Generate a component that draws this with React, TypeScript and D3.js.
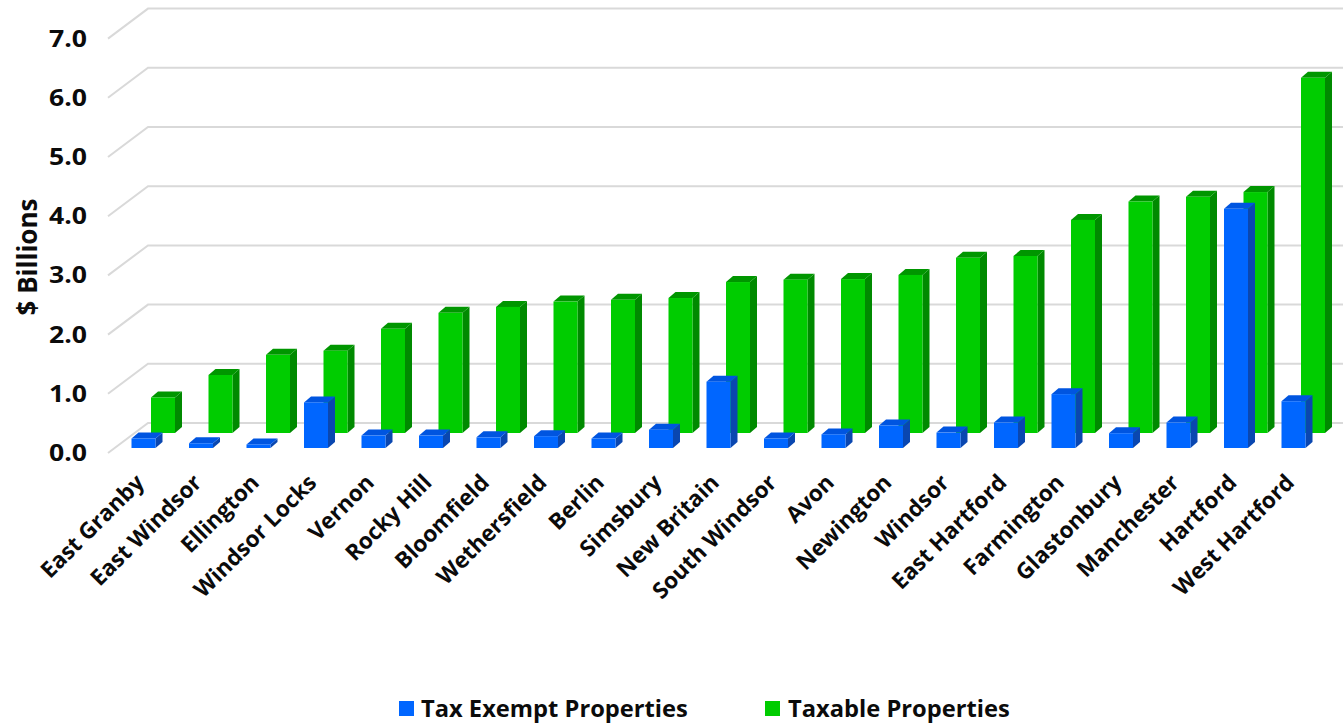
import React from "react";
import * as d3 from "d3";

const towns = ["East Granby","East Windsor","Ellington","Windsor Locks","Vernon","Rocky Hill","Bloomfield","Wethersfield","Berlin","Simsbury","New Britain","South Windsor","Avon","Newington","Windsor","East Hartford","Farmington","Glastonbury","Manchester","Hartford","West Hartford"];
const taxExempt = [0.16,0.08,0.06,0.77,0.21,0.21,0.18,0.2,0.16,0.31,1.12,0.16,0.23,0.38,0.26,0.43,0.91,0.25,0.43,4.04,0.79];
const taxable = [0.6,0.98,1.32,1.39,1.76,2.03,2.13,2.22,2.25,2.28,2.55,2.59,2.6,2.67,2.96,2.99,3.6,3.91,3.99,4.07,6.0];
const ticks = [0,1,2,3,4,5,6,7];

const W = 1343, H = 724;
const font = "'Open Sans', 'Noto Sans', sans-serif";
const unit = d3.scaleLinear().domain([0, 7]).range([0, 414.4]);
const blueX = d3.scaleLinear().domain([0, 20]).range([131.5, 1281.5]);
const barW = 24, dx = 7, dy = 6;

type Shade = { front: string; side: string; top: string };
const BLUE: Shade = { front: "#0066ff", side: "#0a47b0", top: "#0055e0" };
const GREEN: Shade = { front: "#00cc00", side: "#008a00", top: "#009600" };

function Bar({ x, base, value, c }: { x: number; base: number; value: number; c: Shade }) {
  const t = base - unit(value);
  return (
    <g>
      <polygon fill={c.side} points={`${x + barW},${base} ${x + barW + dx},${base - dy} ${x + barW + dx},${t - dy} ${x + barW},${t}`} />
      <polygon fill={c.top} points={`${x},${t} ${x + dx},${t - dy} ${x + barW + dx},${t - dy} ${x + barW},${t}`} />
      <rect x={x} y={t} width={barW} height={base - t} fill={c.front} />
    </g>
  );
}

export default function App() {
  return (
    <svg width={W} height={H} viewBox={`0 0 ${W} ${H}`} style={{ position: "absolute", left: 0, top: 0, background: "#fff" }} fontFamily={font} fontWeight={700}>
      {ticks.map((t) => {
        const yb = 423 - unit(t);
        const yf = 453 - unit(t);
        return <polyline key={t} points={`108,${yf} 148,${yb} ${W},${yb}`} fill="none" stroke="#d9d9d9" strokeWidth={2} />;
      })}
      {ticks.map((t) => (
        <text key={t} x={87} y={452 - unit(t)} textAnchor="end" dominantBaseline="central" fontSize={23} textLength={38} lengthAdjust="spacingAndGlyphs" fill="#0b0b0b">{t.toFixed(1)}</text>
      ))}
      {taxable.map((v, i) => <Bar key={i} x={blueX(i) + 19.5} base={433} value={v} c={GREEN} />)}
      {taxExempt.map((v, i) => <Bar key={i} x={blueX(i)} base={448} value={v} c={BLUE} />)}
      {towns.map((name, i) => (
        <text key={name} transform={`translate(${blueX(i) + 8},${478}) rotate(-45)`} textAnchor="end" dominantBaseline="central" fontSize={22.5} fill="#0b0b0b">{name}</text>
      ))}
      <text transform="translate(27,257) rotate(-90)" textAnchor="middle" dominantBaseline="central" fontSize={26} fill="#0b0b0b">$ Billions</text>
      <rect x={399} y={701} width={15} height={15} fill={BLUE.front} />
      <text x={421} y={708} dominantBaseline="central" fontSize={23.7} fill="#0b0b0b">Tax Exempt Properties</text>
      <rect x={765} y={701} width={15} height={15} fill={GREEN.front} />
      <text x={788} y={708} dominantBaseline="central" fontSize={23.7} fill="#0b0b0b">Taxable Properties</text>
    </svg>
  );
}
